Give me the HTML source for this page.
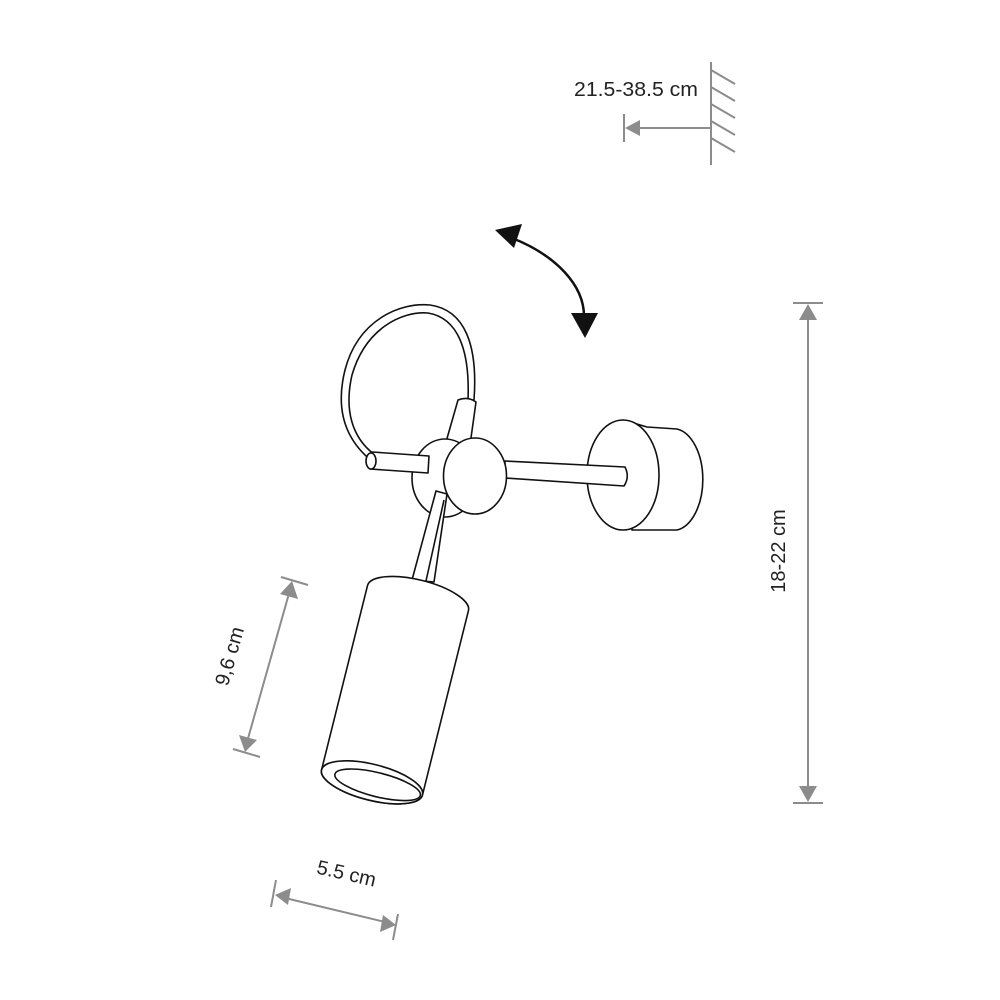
<!DOCTYPE html>
<html><head><style>html,body{margin:0;padding:0;background:#fff}svg{display:block}</style></head>
<body>
<svg width="1000" height="1000" viewBox="0 0 1000 1000" xmlns="http://www.w3.org/2000/svg" font-family="'Liberation Sans', sans-serif">
<!-- Top wall dimension -->
<g stroke="#8c8c8c" stroke-width="2" fill="none">
<line x1="711" y1="62" x2="711" y2="165"/>
<line x1="711" y1="70" x2="735" y2="84"/>
<line x1="711" y1="87" x2="735" y2="101"/>
<line x1="711" y1="104" x2="735" y2="118"/>
<line x1="711" y1="121" x2="735" y2="135"/>
<line x1="711" y1="138" x2="735" y2="152"/>
<line x1="711" y1="128" x2="640" y2="128"/>
<line x1="624" y1="114" x2="624" y2="142"/>
</g>
<polygon points="625,128 640,120 640,136" fill="#8c8c8c"/>
<text x="574" y="96" font-size="20" fill="#222" textLength="124" lengthAdjust="spacingAndGlyphs">21.5-38.5 cm</text>

<!-- rotation arrow -->
<path d="M512,238 C555,255 585,285 584,318" stroke="#111" stroke-width="2.5" fill="none"/>
<polygon points="495,230 522,224 514,248" fill="#111"/>
<polygon points="571,313 598,313 585,338" fill="#111"/>

<!-- 18-22 dimension -->
<g stroke="#8c8c8c" stroke-width="2">
<line x1="808" y1="312" x2="808" y2="795"/>
<line x1="793" y1="303" x2="823" y2="303"/>
<line x1="793" y1="803" x2="823" y2="803"/>
</g>
<polygon points="808,304 799,320 817,320" fill="#8c8c8c"/>
<polygon points="808,802 799,786 817,786" fill="#8c8c8c"/>
<text transform="translate(785,551) rotate(-90)" text-anchor="middle" font-size="20" fill="#222">18-22 cm</text>

<!-- 9.6 dimension -->
<g stroke="#8c8c8c" stroke-width="2">
<line x1="290" y1="590" x2="247" y2="742"/>
<line x1="281" y1="577" x2="308" y2="585"/>
<line x1="233" y1="749" x2="260" y2="757"/>
</g>
<polygon points="292,581 280,594 298,599" fill="#8c8c8c"/>
<polygon points="245,752 239,735 257,740" fill="#8c8c8c"/>
<text transform="translate(236,658) rotate(-74)" text-anchor="middle" font-size="20" fill="#222">9,6 cm</text>

<!-- 5.5 dimension -->
<g stroke="#8c8c8c" stroke-width="2">
<line x1="285" y1="898" x2="385" y2="922"/>
<line x1="276" y1="880" x2="271" y2="907"/>
<line x1="398" y1="914" x2="393" y2="940"/>
</g>
<polygon points="275,895 291,888 288,905" fill="#8c8c8c"/>
<polygon points="396,925 380,932 383,915" fill="#8c8c8c"/>
<text transform="translate(345,880) rotate(13)" text-anchor="middle" font-size="20" fill="#222">5.5 cm</text>

<!-- Lamp -->
<g stroke="#111" stroke-width="1.6" fill="#fff" stroke-linejoin="round">
<!-- wall base back -->
<path d="M623,420 L647,427 L677,429 A30,51 0 0 1 677,530 L632,530 Z"/>
<ellipse cx="623" cy="475" rx="36" ry="55"/>
<!-- right rod -->
<path d="M505,461 L625,467 Q630,477 624,486 L505,478 Z"/>
<!-- cable loop -->
<path d="M373,462 C345,440 335,410 345,370 C358,320 400,302 430,305 C465,310 478,345 474,400 L468,400 C470,350 458,318 428,313 C400,311 365,330 352,375 C344,410 352,438 375,455 Z"/>
<!-- upper rod -->
<path d="M458,400 Q468,396 476,402 L470,445 L446,442 Z"/>
<!-- back disc -->
<ellipse cx="445" cy="478" rx="33" ry="39"/>
<!-- left rod -->
<path d="M372,452 L429,456 L428,473 L370,469 Z"/>
<ellipse cx="371" cy="461" rx="5" ry="8"/>
<!-- vertical rod -->
<path d="M436,491 L447,494 L434,582 L412,580 Z"/>
<line x1="444" y1="500" x2="426" y2="581"/>
<!-- front disc -->
<ellipse cx="475" cy="476" rx="31.5" ry="38"/>
<!-- shade -->
<g transform="translate(418,598) rotate(14)">
<path d="M-52,0 A52,18 0 0 1 52,0 L52,190 A52,18 0 0 1 -52,190 Z"/>
<ellipse cx="0" cy="190" rx="52" ry="18" fill="#fff"/>
<ellipse cx="6" cy="191" rx="44" ry="12" fill="#fff"/>
</g>
</g>
</svg>
</body></html>
